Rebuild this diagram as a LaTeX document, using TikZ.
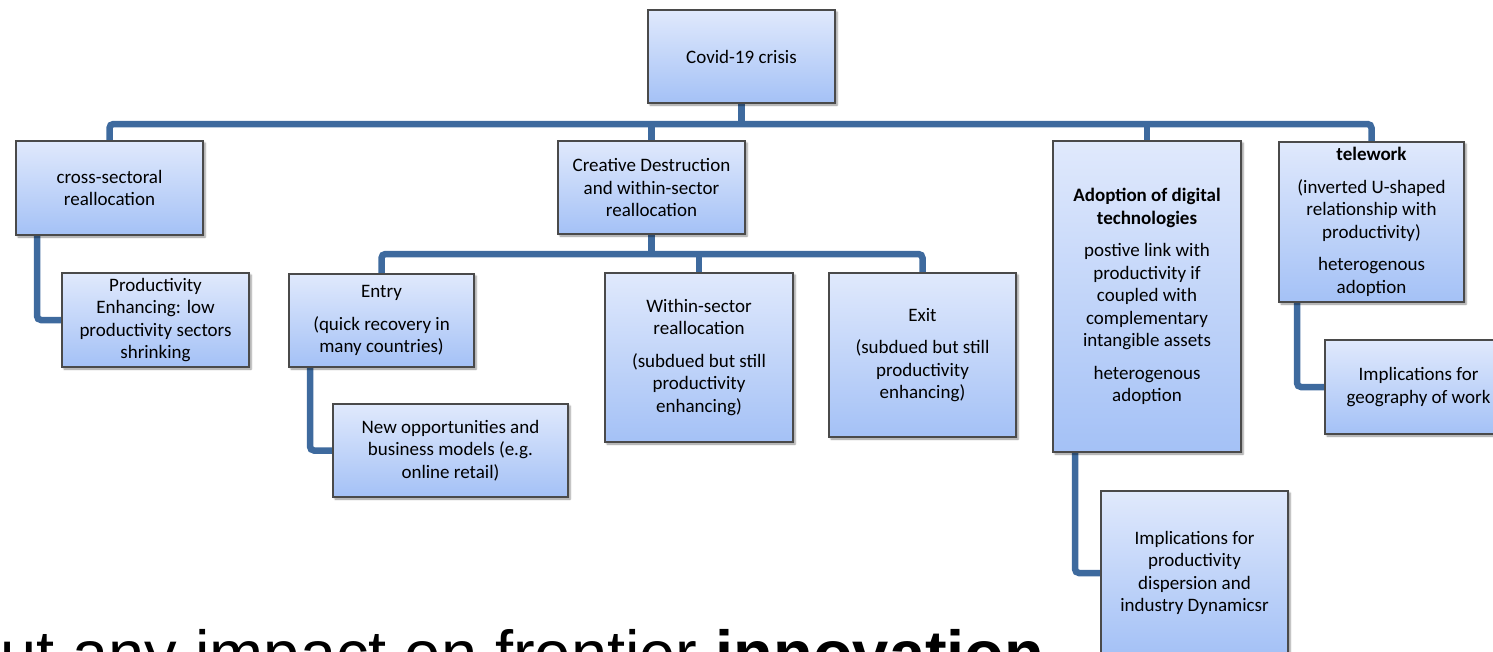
\documentclass[tikz,border=0pt]{standalone}
\usepackage{fontspec}
\setmainfont{Carlito}
\newfontfamily\arialf{Liberation Sans}
\usetikzlibrary{shadows.blur,backgrounds}
\definecolor{boxtop}{HTML}{E0E9FC}
\definecolor{boxbot}{HTML}{A4C1F6}
\definecolor{boxline}{HTML}{4A4A4A}
\definecolor{conncol}{HTML}{3E6A9E}
\tikzset{
  box/.style={draw=boxline, line width=1.5pt, top color=boxtop, bottom color=boxbot,
    inner sep=0pt, align=center, font=\fontsize{19}{22.5}\selectfont,
    blur shadow={shadow xshift=2pt, shadow yshift=-2pt, shadow blur steps=4, shadow opacity=45}},
  conn/.style={draw=conncol, line width=6.5pt, rounded corners=4pt},
}
\begin{document}
\begin{tikzpicture}[x=1pt,y=-1pt]
\useasboundingbox (0,0) rectangle (1493,651);

\node[box, minimum width=187pt, minimum height=93pt] (covid) at (741.5,56.5) {Covid-19 crisis};

\node[box, minimum width=187pt, minimum height=94pt] (cross) at (109.5,188) {cross-sectoral\\reallocation};
\node[box, minimum width=187pt, minimum height=94pt] (prodenh) at (155.5,320) {Productivity\\Enhancing: low\\productivity sectors\\shrinking};

\node[box, minimum width=187pt, minimum height=93pt] (creative) at (651.5,187.5) {Creative Destruction\\and within-sector\\reallocation};
\node[box, minimum width=185pt, minimum height=93pt] (entry) at (381.5,320.5) {Entry\\[10pt](quick recovery in\\many countries)};
\node[box, minimum width=235pt, minimum height=93pt] (newopp) at (450.5,450.5) {New opportunities and\\business models (e.g.\\online retail)};
\node[box, minimum width=188pt, minimum height=169pt] (within) at (699,357.5) {Within-sector\\reallocation\\[10pt](subdued but still\\productivity\\enhancing)};
\node[box, minimum width=187pt, minimum height=164pt] (exit) at (922.5,355) {Exit\\[10pt](subdued but still\\productivity\\enhancing)};

\node[box, minimum width=188pt, minimum height=311pt] (adoption) at (1147,296.5) {\textbf{Adoption of digital}\\\textbf{technologies}\\[10pt]postive link with\\productivity if\\coupled with\\complementary\\intangible assets\\[10pt]heterogenous\\adoption};
\node[box, minimum width=187pt, minimum height=164pt] (impprod) at (1194.5,573) {Implications for\\productivity\\dispersion and\\industry Dynamicsr};

\node[box, minimum width=185pt, minimum height=160pt] (telework) at (1371.5,222) {\textbf{telework}\\[10pt](inverted U-shaped\\relationship with\\productivity)\\[10pt]heterogenous\\adoption};
\node[box, minimum width=187pt, minimum height=94pt] (impgeo) at (1418.5,387) {Implications for\\geography of work};

\node[anchor=base west, inner sep=0pt, font=\arialf\fontsize{65}{74}\selectfont] (foot) at (-36,676) {but any impact on frontier \textbf{innovation}};

\begin{scope}[on background layer]
  \coordinate (busY) at (0,124);
  \coordinate (subY) at (0,254);
  \draw[conn] (cross.north) -- (cross.north |- busY) -- (telework.north |- busY) -- (telework.north);
  \draw[conn] (covid.south) -- (covid.south |- busY);
  \draw[conn] (creative.north) -- (creative.north |- busY);
  \draw[conn] (adoption.north) -- (adoption.north |- busY);
  \draw[conn] (entry.north) -- (entry.north |- subY) -- (exit.north |- subY) -- (exit.north);
  \draw[conn] (creative.south) -- (creative.south |- subY);
  \draw[conn] (within.north) -- (within.north |- subY);
  \draw[conn] ([xshift=-72.5pt]cross.south) |- (prodenh.west);
  \draw[conn] ([xshift=-71.5pt]entry.south) |- (newopp.west);
  \draw[conn] ([xshift=-72pt]adoption.south) |- (impprod.west);
  \draw[conn] ([xshift=-74.5pt]telework.south) |- (impgeo.west);
\end{scope}
\end{tikzpicture}
\end{document}
